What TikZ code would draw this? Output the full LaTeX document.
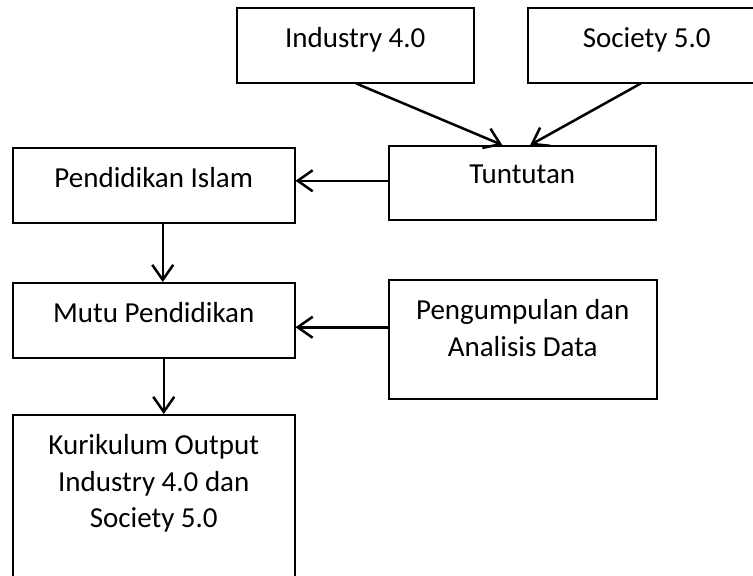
\documentclass[tikz,border=0pt]{standalone}
\usepackage{fontspec}
\setmainfont{Carlito}
\usetikzlibrary{arrows.meta}

\begin{document}
\begin{tikzpicture}[x=1pt,y=-1pt,
  kotak/.style={draw, line width=1.5pt, anchor=north west, inner sep=0pt},
  isi/.style={anchor=north, inner sep=0pt, yshift=-20pt, align=center,
    font=\fontsize{29}{36.7}\selectfont},
  panah/.style={-{Straight Barb[length=15pt,width=21pt]}, line width=2.5pt}]

  \useasboundingbox (0,0) rectangle (753,576);

  \node[kotak, minimum width=237pt, minimum height=75pt,
    label={[isi]north:Industry 4.0}] (ind) at (236,7) {};
  \node[kotak, minimum width=238pt, minimum height=75pt,
    label={[isi]north:Society 5.0}] (soc) at (527,7) {};
  \node[kotak, minimum width=267pt, minimum height=74pt,
    label={[isi]north:Tuntutan}] (tun) at (388,145) {};
  \node[kotak, minimum width=282pt, minimum height=75pt,
    label={[isi]north:Pendidikan Islam}] (pi) at (12,147) {};
  \node[kotak, minimum width=282pt, minimum height=75pt,
    label={[isi]north:Mutu Pendidikan}] (mutu) at (12,282) {};
  \node[kotak, minimum width=268pt, minimum height=119pt,
    label={[isi]north:Pengumpulan dan\\Analisis Data}] (data) at (388,279) {};
  \node[kotak, minimum width=282pt, minimum height=200pt,
    label={[isi]north:Kurikulum Output\\Industry 4.0 dan\\Society 5.0}] (kur) at (12,414) {};

  \draw[panah] ([xshift=1pt]ind.south) -- ([xshift=-20pt]tun.north);
  \draw[panah] ([xshift=-6pt]soc.south) -- ([xshift=8pt]tun.north);
  \draw[panah] ([yshift=2pt]tun.west) -- ([yshift=2pt]tun.west -| pi.east);
  \draw[panah] ([xshift=9pt]pi.south) -- ([xshift=9pt]pi.south |- mutu.north);
  \draw[panah] ([yshift=-7pt]mutu.east -| data.west) -- ([yshift=-7pt]mutu.east);
  \draw[panah] ([xshift=10pt]mutu.south) -- ([xshift=10pt]mutu.south |- kur.north);

\end{tikzpicture}
\end{document}
